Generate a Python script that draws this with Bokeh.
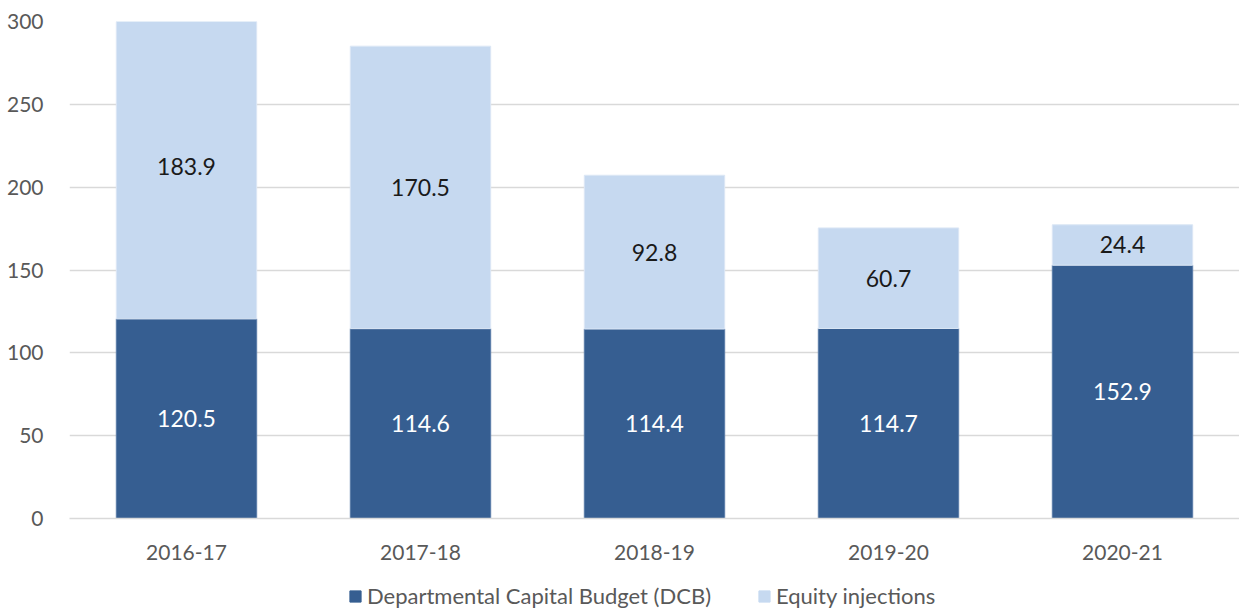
from bokeh.plotting import figure
from bokeh.models import ColumnDataSource, Range1d, FactorRange, Legend, LegendItem
from bokeh.layouts import column
from bokeh.core.properties import value
from bokeh.embed import file_html
from bokeh.resources import INLINE

years = ["2016-17", "2017-18", "2018-19", "2019-20", "2020-21"]
dcb = [120.5, 114.6, 114.4, 114.7, 152.9]
equity = [183.9, 170.5, 92.8, 60.7, 24.4]
y_ticks = [0, 50, 100, 150, 200, 250, 300]
series_names = ["Departmental Capital Budget (DCB)", "Equity injections"]

FONT = "Lato"
DARK = "#365E91"
LIGHT = "#C6D9F0"

src = ColumnDataSource(dict(
    years=years, dcb=dcb, equity=equity,
    dcb_mid=[d / 2 for d in dcb],
    eq_mid=[d + e / 2 for d, e in zip(dcb, equity)],
    dcb_lbl=[f"{d:.1f}" for d in dcb],
    eq_lbl=[f"{e:.1f}" for e in equity],
))

p = figure(x_range=FactorRange(*years), y_range=Range1d(0, 300),
           width=1239, height=563, output_backend="svg", toolbar_location=None,
           min_border_left=69, min_border_top=21, min_border_right=0, min_border_bottom=45)
p.outline_line_color = None

r = p.vbar_stack(["dcb", "equity"], x="years", width=0.6, source=src,
                 color=[DARK, LIGHT], line_color=["#5A7CA8", "#DCE7F5"], line_width=1)

p.text(x="years", y="dcb_mid", text="dcb_lbl", source=src, text_align="center",
       text_baseline="middle", text_color="white", text_font=value(FONT), text_font_size="23px")
p.text(x="years", y="eq_mid", text="eq_lbl", source=src, text_align="center",
       text_baseline="middle", text_color="#1a1a1a", text_font=value(FONT), text_font_size="23px")

p.yaxis.ticker = y_ticks
p.yaxis.axis_line_color = None
p.yaxis.major_tick_line_color = None
p.yaxis.minor_tick_line_color = None
p.yaxis.major_label_standoff = 20
p.yaxis.major_label_text_font = FONT
p.yaxis.major_label_text_font_size = "21px"
p.yaxis.major_label_text_color = "#595959"

p.xaxis.axis_line_color = "#D9D9D9"
p.xaxis.axis_line_width = 1.5
p.xaxis.major_tick_line_color = None
p.xaxis.minor_tick_line_color = None
p.xaxis.major_label_standoff = 20
p.xaxis.major_label_text_font = FONT
p.xaxis.major_label_text_font_size = "21px"
p.xaxis.major_label_text_color = "#595959"

p.xgrid.grid_line_color = None
p.ygrid.grid_line_color = "#D9D9D9"
p.ygrid.grid_line_width = 1.5

# legend strip
lf = figure(width=1239, height=46, output_backend="svg", toolbar_location=None,
            x_range=Range1d(0, 1), y_range=Range1d(0, 1),
            x_axis_location=None, y_axis_location=None,
            min_border_left=0, min_border_right=0, min_border_top=0, min_border_bottom=0)
lf.grid.visible = False
lf.outline_line_color = None
hidden = ColumnDataSource(dict(x=[-10], top=[-10]))
g1 = lf.vbar(x="x", top="top", width=0.1, source=hidden, color=DARK)
g2 = lf.vbar(x="x", top="top", width=0.1, source=hidden, color=LIGHT)
legend = Legend(items=[LegendItem(label=series_names[0], renderers=[g1], index=0),
                       LegendItem(label=series_names[1], renderers=[g2], index=0)],
                orientation="horizontal", location=(279, 0),
                label_text_font=FONT, label_text_font_size="22px", label_text_color="#595959",
                glyph_width=14, glyph_height=14, spacing=46, label_standoff=5,
                padding=4, margin=0, border_line_color=None, background_fill_alpha=0)
lf.add_layout(legend, "center")

layout = column(p, lf, spacing=0)
open("out.html", "w").write(file_html(layout, INLINE))
